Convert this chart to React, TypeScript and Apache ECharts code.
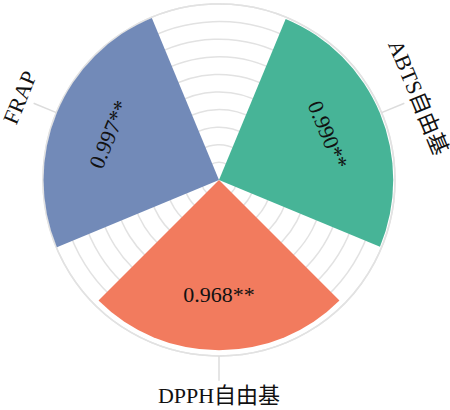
import React, { useEffect, useRef } from 'react';
import * as echarts from 'echarts';

// Categories (indicators), their correlation values and significance marks
const categories = ['ABTS自由基', 'DPPH自由基', 'FRAP'];
const values = [0.99, 0.968, 0.997];
const significance = ['**', '**', '**'];
// Position of each category on the angle axis (degrees, clockwise from top)
const categoryAngles = [67.5, 180, 292.5];
const colors = ['#47B497', '#F27B5E', '#728AB8'];

const FONT = "'Liberation Serif', 'Times New Roman', 'Noto Sans CJK SC', serif";

function tangentialRotation(angleDeg: number): number {
  let rot = -angleDeg;
  while (rot <= -90) rot += 180;
  while (rot > 90) rot -= 180;
  return (rot * Math.PI) / 180;
}

export default function App() {
  const ref = useRef<HTMLDivElement>(null);

  useEffect(() => {
    const chart = echarts.init(ref.current as HTMLDivElement, null, { renderer: 'svg' });
    chart.setOption({
      animation: false,
      backgroundColor: '#ffffff',
      polar: { center: [219, 180], radius: 176 },
      angleAxis: {
        type: 'value',
        min: 0,
        max: 360,
        interval: 22.5,
        startAngle: 90,
        clockwise: true,
        axisLine: { show: true, lineStyle: { color: '#e2e2e2', width: 1.5 } },
        axisTick: { show: false },
        axisLabel: { show: false },
        splitLine: { show: false },
      },
      radiusAxis: {
        type: 'value',
        min: 0,
        max: 1,
        interval: 0.1,
        axisLine: { show: false },
        axisTick: { show: false },
        axisLabel: { show: false },
        splitLine: { show: true, lineStyle: { color: '#e2e2e2', width: 1.5 } },
      },
      series: [
        {
          type: 'bar',
          coordinateSystem: 'polar',
          barWidth: '75%',
          data: values.map((v, i) => ({
            value: [v, categoryAngles[i]],
            itemStyle: { color: colors[i] },
          })),
        },
        {
          // value labels inside the bars
          type: 'custom',
          coordinateSystem: 'polar',
          z: 4,
          data: values.map((v, i) => [v, categoryAngles[i]]),
          renderItem: (params: any, api: any) => {
            const i = params.dataIndex;
            const v = api.value(0) as number;
            const ang = api.value(1) as number;
            const p = api.coord([v - 0.32, ang]);
            return {
              type: 'text',
              x: p[0],
              y: p[1],
              rotation: tangentialRotation(ang),
              style: {
                text: values[i].toFixed(3) + significance[i],
                font: `22px ${FONT}`,
                fill: '#111111',
                align: 'center',
                verticalAlign: 'middle',
              },
            };
          },
        },
        {
          // angle-axis ticks and category labels
          type: 'custom',
          coordinateSystem: 'polar',
          z: 5,
          data: categories.map((_, i) => [1, categoryAngles[i]]),
          renderItem: (params: any, api: any) => {
            const i = params.dataIndex;
            const ang = api.value(1) as number;
            const p0 = api.coord([1.0, ang]);
            const p1 = api.coord([1.14, ang]);
            const pl = api.coord([1.225, ang]);
            return {
              type: 'group',
              children: [
                {
                  type: 'line',
                  shape: { x1: p0[0], y1: p0[1], x2: p1[0], y2: p1[1] },
                  style: { stroke: '#dcdcdc', lineWidth: 1.5 },
                },
                {
                  type: 'text',
                  x: pl[0],
                  y: pl[1],
                  rotation: tangentialRotation(ang),
                  style: {
                    text: categories[i],
                    font: `22px ${FONT}`,
                    fill: '#111111',
                    align: 'center',
                    verticalAlign: 'middle',
                  },
                },
              ],
            };
          },
        },
      ],
    });
    return () => chart.dispose();
  }, []);

  return (
    <div
      ref={ref}
      style={{ position: 'fixed', left: 0, top: 0, width: 450, height: 410 }}
    />
  );
}
